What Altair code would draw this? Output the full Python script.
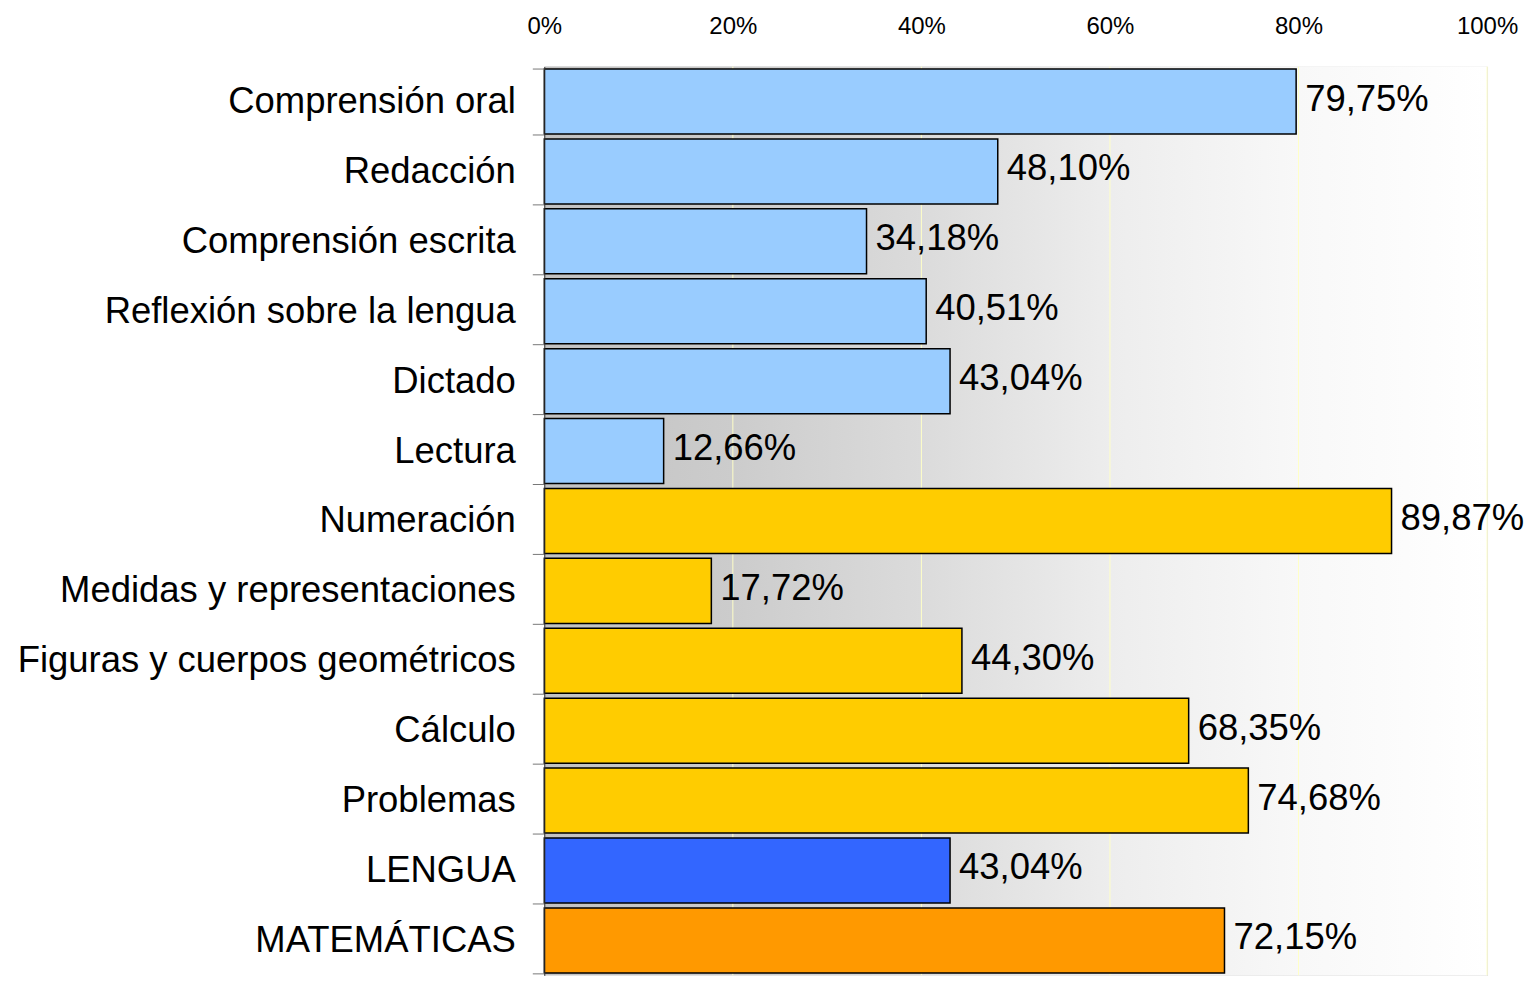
import altair as alt
import pandas as pd

categories = [
    "Comprensión oral", "Redacción", "Comprensión escrita", "Reflexión sobre la lengua",
    "Dictado", "Lectura", "Numeración", "Medidas y representaciones",
    "Figuras y cuerpos geométricos", "Cálculo", "Problemas", "LENGUA", "MATEMÁTICAS",
]
values = [79.75, 48.10, 34.18, 40.51, 43.04, 12.66, 89.87, 17.72, 44.30, 68.35, 74.68, 43.04, 72.15]
groups = ["lengua"] * 6 + ["mates"] * 5 + ["LENGUA", "MATEMÁTICAS"]
group_names = ["lengua", "mates", "LENGUA", "MATEMÁTICAS"]
group_colors = ["#99ccff", "#ffcc00", "#3366ff", "#ff9900"]
x_ticks = [0, 20, 40, 60, 80, 100]
grid_values = [20, 40, 60, 80, 100]

df = pd.DataFrame({
    "cat": categories,
    "val": values,
    "grp": groups,
    "label": [f"{v:.2f}".replace(".", ",") + "%" for v in values],
})

FONT = "Liberation Sans"

xscale = alt.Scale(domain=[0, 100], nice=False, zero=True)
yscale = alt.Scale(paddingInner=0.07, paddingOuter=0.035)

bg = alt.Chart(pd.DataFrame({"a": [0]})).mark_rect(
    fill=alt.LinearGradient(
        gradient="linear", x1=0, x2=1, y1=0, y2=0,
        stops=[
            alt.GradientStop(color="#c2c2c2", offset=0),
            alt.GradientStop(color="#cccccc", offset=0.2),
            alt.GradientStop(color="#dbdbdb", offset=0.4),
            alt.GradientStop(color="#ededed", offset=0.6),
            alt.GradientStop(color="#f8f8f8", offset=0.8),
            alt.GradientStop(color="#ffffff", offset=1),
        ],
    ),
    stroke=None,
).encode(
    x=alt.value(0), x2=alt.value("width"),
    y=alt.value(0), y2=alt.value("height"),
)

grid = alt.Chart(pd.DataFrame({"g": grid_values})).mark_rule(
    color="#ffffc8", strokeWidth=1
).encode(
    x=alt.X("g:Q", scale=xscale),
    y=alt.value(0), y2=alt.value("height"),
)

bars = alt.Chart(df).mark_bar(stroke="#000000", strokeWidth=1.5).encode(
    y=alt.Y("cat:N", sort=categories, scale=yscale, title=None,
            axis=alt.Axis(
                orient="left", tickBand="extent", tickSize=12, tickColor="#777777",
                domainColor="#333333", labelFont=FONT, labelFontSize=36.5,
                labelColor="#000000", labelPadding=17, labelLimit=600, zindex=1,
            )),
    x=alt.X("val:Q", scale=xscale, title=None,
            axis=alt.Axis(
                orient="top", values=x_ticks, labelExpr="datum.value + '%'",
                ticks=False, domain=False, grid=False, labelFont=FONT,
                labelFontSize=24, labelColor="#000000", labelPadding=28,
                labelFlush=False, labelOverlap=False,
            )),
    fill=alt.Fill("grp:N", scale=alt.Scale(domain=group_names, range=group_colors), legend=None),
)

texts = alt.Chart(df).mark_text(
    align="left", baseline="middle", dx=9, dy=-2, font=FONT, fontSize=36.5, color="#000000"
).encode(
    y=alt.Y("cat:N", sort=categories, scale=yscale),
    x=alt.X("val:Q", scale=xscale),
    text="label:N",
)

chart = alt.layer(bg, grid, bars, texts).properties(
    width=944, height=910,
    autosize=alt.AutoSizeParams(type="none"),
    padding={"left": 537, "top": 58, "right": 38, "bottom": 0},
).configure_view(stroke=None).configure(background="#ffffff")

chart.save("out.html", embed_options={"renderer": "svg", "actions": False})
